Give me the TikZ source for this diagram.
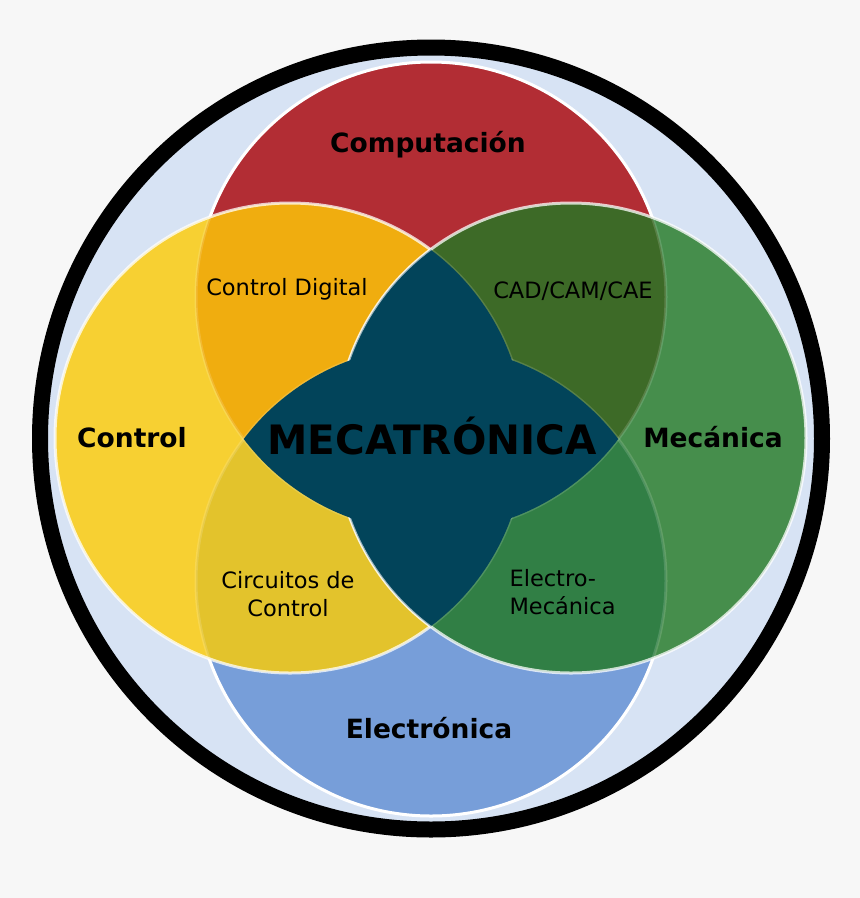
\documentclass[tikz,border=0pt]{standalone}
\usepackage{fontspec}
\setmainfont{DejaVu Sans}
\definecolor{bgcol}{HTML}{F7F7F7}
\definecolor{ringfill}{HTML}{D7E3F4}
\definecolor{compcol}{HTML}{B22D34}
\definecolor{ctrlcol}{HTML}{F7D032}
\definecolor{meccol}{HTML}{468E4C}
\definecolor{eleccol}{HTML}{779ED9}
\definecolor{digcol}{HTML}{F0AD0F}
\definecolor{cadcol}{HTML}{3D6A27}
\definecolor{circcol}{HTML}{E3C32C}
\definecolor{emeccol}{HTML}{317F45}
\definecolor{metacol}{HTML}{02445A}
\begin{document}
\begin{tikzpicture}[x=1pt,y=-1pt,
	rim/.style={draw=white,line width=3pt},
	softrim/.style={draw=white,draw opacity=0.75,line width=3pt},
	faint/.style={draw=white,draw opacity=0.15,line width=3pt},
	field/.style={font=\fontsize{26.5}{30}\selectfont\bfseries},
	overlap/.style={font=\fontsize{22.5}{28}\selectfont,align=center}]

	\useasboundingbox[fill=bgcol] (0,0) rectangle (860,898);
	\draw[fill=ringfill,line width=16pt] (431,438.5) circle (391pt);

	\coordinate (comp) at (431,297);
	\coordinate (elec) at (431,581);
	\coordinate (ctrl) at (290,438);
	\coordinate (mec) at (571,438);

	\fill[compcol] (comp) circle (235pt);
	\fill[eleccol] (elec) circle (235pt);
	\draw[rim] (comp) circle (235pt);
	\draw[rim] (elec) circle (235pt);

	\fill[ctrlcol] (ctrl) circle (235pt);
	\begin{scope}
		\clip (ctrl) circle (235pt);
		\fill[digcol] (comp) circle (235pt);
		\fill[circcol] (elec) circle (235pt);
		\draw[faint] (comp) circle (235pt);
		\draw[faint] (elec) circle (235pt);
	\end{scope}
	\draw[softrim] (ctrl) circle (235pt);

	\fill[meccol] (mec) circle (235pt);
	\begin{scope}
		\clip (mec) circle (235pt);
		\fill[cadcol] (comp) circle (235pt);
		\fill[emeccol] (elec) circle (235pt);
		\draw[faint] (comp) circle (235pt);
		\draw[faint] (elec) circle (235pt);
		\draw[faint] (ctrl) circle (235pt);
	\end{scope}
	\draw[softrim] (mec) circle (235pt);

	\begin{scope}
		\clip (ctrl) circle (235pt);
		\fill[metacol] (mec) circle (235pt);
		\draw[draw=white,draw opacity=0.6,line width=2pt] (mec) circle (235pt);
	\end{scope}
	\begin{scope}
		\clip (comp) circle (235pt);
		\fill[metacol] (elec) circle (235pt);
	\end{scope}

	\node[field] (comptext) at (428,145) {Computación};
	\node[field] (ctrltext) at (132,438) {Control};
	\node[field] (mectext) at (713,437) {Mecánica};
	\node[field] (electext) at (429,728) {Electrónica};
	\node[font=\fontsize{40.5}{44}\selectfont\bfseries] (metatext) at (432,436) {MECATRÓNICA};

	\node[overlap] (digtext) at (287,289) {Control Digital};
	\node[overlap] (cadtext) at (573,291) {CAD/CAM/CAE};
	\node[overlap] (circtext) at (288,594) {Circuitos de\\Control};
	\node[overlap,align=left,anchor=west] (emectext) at (506,592) {Electro-\\Mecánica};

\end{tikzpicture}
\end{document}
